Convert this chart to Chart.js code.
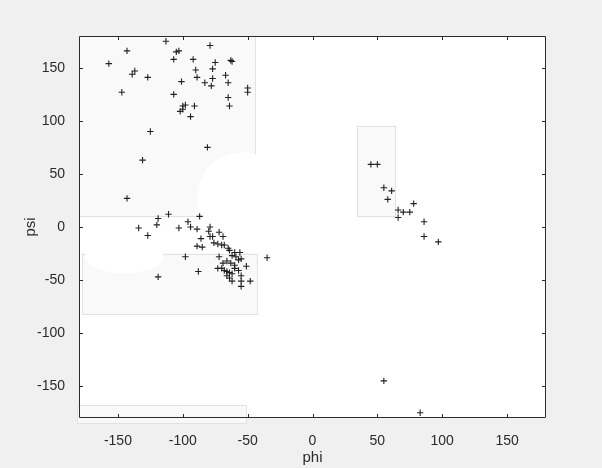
<!DOCTYPE html>
<html>
<head>
<meta charset="utf-8">
<script src="https://cdn.jsdelivr.net/npm/chart.js@4.4.1/dist/chart.umd.min.js"></script>
<style>
  body { margin: 0; background: #f0f0f0; }
</style>
</head>
<body>
<canvas id="rama" width="602" height="468"></canvas>
<script>
// Torsion angles (degrees), one entry per residue
const phi = [
  -113, -143, -157, -105, -103, -107, -79, -92, -75, -63, -62, -137, -139, -127,
  -90, -77, -89, -77, -67, -101, -83, -78, -65, -50, -50, -147, -107, -65, -64,
  -91, -98, -100, -100, -102, -94, -125, -81, -131, -143,
  -119, -111, -87, -120, -134, -127, -103, -96, -94, -89, -79, -80, -72, -69,
  -86, -79, -77, -76, -73, -70, -68, -89, -85, -65, -64, -60, -56, -62, -59,
  -57, -55, -72, -98, -35, -69, -66, -63, -60, -73, -70, -68, -66, -64, -62,
  -60, -57, -51, -88, -119, -66, -64, -62, -55, -55, -48, -55,
  45, 50, 55, 61, 58, 78, 66, 70, 75, 66, 86, 86, 97, 55, 83
];
const psi = [
  175, 166, 154, 165, 166, 158, 171, 158, 155, 157, 156, 147, 144, 141,
  148, 149, 141, 140, 143, 137, 136, 133, 136, 131, 127, 127, 125, 122, 114,
  114, 115, 114, 111, 109, 104, 90, 75, 63, 27,
  8, 12, 10, 2, -1, -8, -1, 5, 0, -2, 0, -4, -5, -9,
  -11, -9, -9, -15, -16, -17, -17, -18, -19, -20, -22, -24, -24, -27, -28,
  -31, -30, -28, -28, -29, -34, -32, -34, -36, -39, -39, -41, -42, -43, -44,
  -39, -41, -37, -42, -47, -46, -48, -51, -46, -51, -51, -56,
  59, 59, 37, 34, 26, 22, 16, 14, 14, 9, 5, -9, -14, -145, -175
];

const xTicks = [-150, -100, -50, 0, 50, 100, 150];
const yTicks = [-150, -100, -50, 0, 50, 100, 150];

// allowed regions: [phiMin, phiMax, psiMin, psiMax]
const regionBoxes = [
  [-180, -44, 10, 180],
  [-178, -43, -82, -25],
  [34.5, 64, 10, 95],
  [-181.5, -51.5, -184.5, -167.5]
];
// cut-outs: [phiCenter, psiCenter, phiRadius, psiRadius]
const regionHoles = [
  [-54.4, 28, 34.6, 42.5],
  [-145, -28.5, 30.4, 15]
];

const ink = '#2b2b2b';
const font = { family: 'Liberation Sans, Arial, sans-serif', size: 14 };

const frame = {
  id: 'frame',
  beforeDraw(chart) {
    const { ctx, chartArea: a } = chart;
    ctx.save();
    ctx.fillStyle = '#f0f0f0';
    ctx.fillRect(0, 0, chart.width, chart.height);
    ctx.fillStyle = '#ffffff';
    ctx.fillRect(a.left, a.top, a.right - a.left, a.bottom - a.top);
    ctx.restore();
  },
  beforeDatasetsDraw(chart) {
    const { ctx, scales: { x, y } } = chart;
    ctx.save();
    regionBoxes.forEach(([x0, x1, y0, y1]) => {
      const l = x.getPixelForValue(x0), r = x.getPixelForValue(x1);
      const t = y.getPixelForValue(y1), b = y.getPixelForValue(y0);
      ctx.fillStyle = '#f9f9f9';
      ctx.fillRect(l, t, r - l, b - t);
      ctx.strokeStyle = '#e2e2e2';
      ctx.lineWidth = 1;
      ctx.strokeRect(Math.round(l) + 0.5, Math.round(t) + 0.5, Math.round(r - l), Math.round(b - t));
    });
    ctx.fillStyle = '#ffffff';
    regionHoles.forEach(([cx, cy, rx, ry]) => {
      const px = x.getPixelForValue(cx), py = y.getPixelForValue(cy);
      const w = Math.abs(x.getPixelForValue(cx + rx) - px);
      const h = Math.abs(y.getPixelForValue(cy + ry) - py);
      ctx.beginPath();
      ctx.ellipse(px, py, w, h, 0, 0, Math.PI * 2);
      ctx.fill();
    });
    ctx.restore();
  },
  afterDatasetsDraw(chart) {
    const { ctx, chartArea: a, scales: { x, y } } = chart;
    ctx.save();
    ctx.strokeStyle = ink;
    ctx.lineWidth = 1;
    ctx.beginPath();
    ctx.rect(a.left + 0.5, a.top + 0.5, a.right - a.left - 1, a.bottom - a.top - 1);
    // MATLAB style ticks, pointing inwards on all four sides
    x.ticks.forEach(t => {
      const px = Math.round(x.getPixelForValue(t.value)) + 0.5;
      ctx.moveTo(px, a.bottom); ctx.lineTo(px, a.bottom - 4);
      ctx.moveTo(px, a.top); ctx.lineTo(px, a.top + 4);
    });
    y.ticks.forEach(t => {
      const py = Math.round(y.getPixelForValue(t.value)) + 0.5;
      ctx.moveTo(a.left, py); ctx.lineTo(a.left + 4, py);
      ctx.moveTo(a.right, py); ctx.lineTo(a.right - 4, py);
    });
    ctx.stroke();
    ctx.restore();
  }
};

new Chart(document.getElementById('rama'), {
  type: 'scatter',
  data: {
    datasets: [{
      data: phi.map((p, i) => ({ x: p, y: psi[i] })),
      pointStyle: 'cross',
      pointRadius: 3.2,
      pointHoverRadius: 3.2,
      borderColor: '#222222',
      backgroundColor: '#222222',
      borderWidth: 1.1
    }]
  },
  options: {
    responsive: false,
    animation: false,
    layout: { padding: { top: 36, right: 56, left: 0, bottom: 0 } },
    plugins: { legend: { display: false }, tooltip: { enabled: false } },
    scales: {
      x: {
        type: 'linear', min: -180, max: 180,
        afterBuildTicks: s => { s.ticks = xTicks.map(v => ({ value: v })); },
        afterFit: s => { s.height = 50; },
        grid: { display: false },
        border: { display: false },
        ticks: { color: ink, padding: 7, font: font },
        title: { display: true, text: 'phi', color: ink, font: { family: font.family, size: 15 }, padding: { top: 0, bottom: 1 } }
      },
      y: {
        type: 'linear', min: -180, max: 180,
        afterBuildTicks: s => { s.ticks = yTicks.map(v => ({ value: v })); },
        afterFit: s => { s.width = 79; },
        grid: { display: false },
        border: { display: false },
        ticks: { color: ink, padding: 6, font: font },
        title: { display: true, text: 'psi', color: ink, font: { family: font.family, size: 15 }, padding: { top: 22, bottom: 0 } }
      }
    }
  },
  plugins: [frame]
});
</script>
</body>
</html>
